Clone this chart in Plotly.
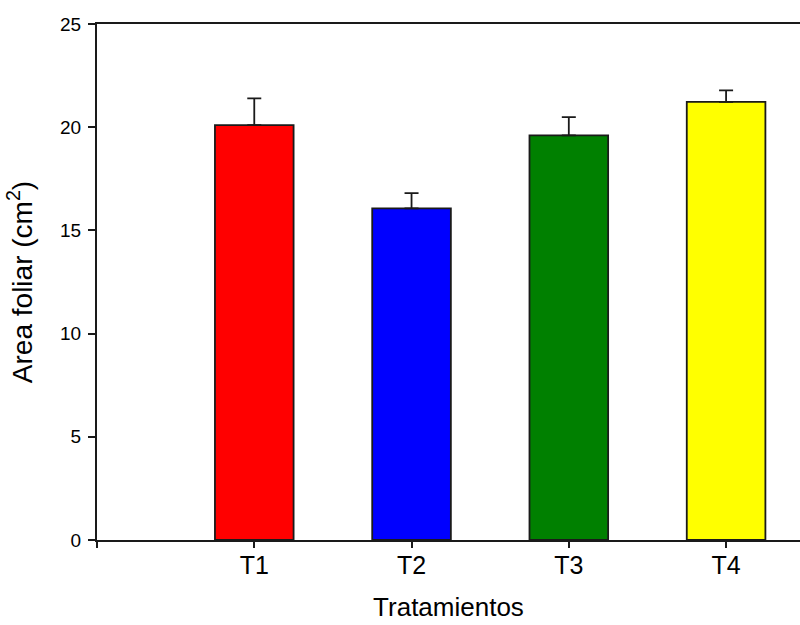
import plotly.graph_objects as go

categories = ["T1", "T2", "T3", "T4"]
positions = [1, 2, 3, 4]
values = [20.10, 16.07, 19.60, 21.23]
errors = [1.30, 0.74, 0.89, 0.55]
colors = ["#ff0000", "#0000ff", "#008000", "#ffff00"]
y_ticks = [0, 5, 10, 15, 20, 25]

FONT = "Liberation Sans, Arial, sans-serif"

fig = go.Figure()
fig.add_trace(go.Bar(
    x=positions, y=values, width=0.5,
    marker=dict(color=colors, line=dict(color="#1a1a1a", width=1.8)),
    error_y=dict(type="data", array=errors, symmetric=False,
                 arrayminus=[0] * len(errors), color="#1a1a1a",
                 thickness=1.8, width=7),
    showlegend=False,
))

fig.update_layout(
    width=800, height=625,
    margin=dict(l=97, r=0, t=24, b=85, autoexpand=False),
    plot_bgcolor="white", paper_bgcolor="white",
    font=dict(family=FONT, color="black"),
    xaxis=dict(
        range=[0, 4.47], tickvals=[0] + positions, ticktext=[""] + categories,
        ticks="outside", ticklen=6, tickwidth=1.5, tickcolor="#1a1a1a",
        showline=True, linecolor="#1a1a1a", linewidth=2, mirror=True,
        showgrid=False, zeroline=False,
        tickfont=dict(size=25, family=FONT), ticklabelstandoff=-4,
        title=dict(text="Tratamientos", font=dict(size=26, family=FONT), standoff=20),
    ),
    yaxis=dict(
        range=[0, 25], tickvals=y_ticks,
        ticks="outside", ticklen=7, tickwidth=1.5, tickcolor="#1a1a1a",
        showline=True, linecolor="#1a1a1a", linewidth=2,
        showgrid=False, zeroline=False,
        tickfont=dict(size=19, family=FONT), ticklabelstandoff=3,
        title=dict(text="Area foliar (cm<sup>2</sup>)", font=dict(size=28, family=FONT), standoff=19),
    ),
)

fig.write_html(
    "out.html",
    config={"displayModeBar": False},
    post_script="document.body.style.margin='0';document.body.style.padding='0';"
                "document.documentElement.style.overflow='hidden';",
)
